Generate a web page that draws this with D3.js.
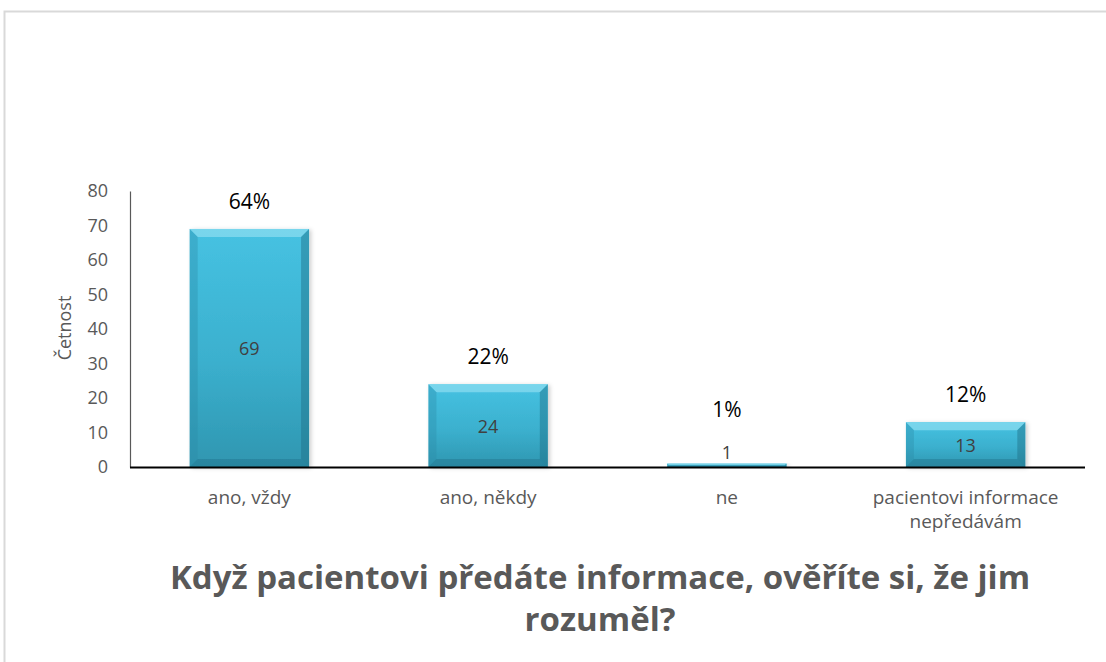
<!DOCTYPE html>
<html>
<head>
<meta charset="utf-8">
<script src="https://cdn.jsdelivr.net/npm/d3@7"></script>
<style>
  body { margin: 0; background: #fff; }
  text { font-family: "Open Sans", "Liberation Sans", sans-serif; }
</style>
</head>
<body>
<div id="chart"></div>
<script>
var categories = ["ano, vždy", "ano, někdy", "ne", "pacientovi informace|nepředávám"];
var counts = [69, 24, 1, 13];
var percents = ["64%", "22%", "1%", "12%"];
var yTicks = [0, 10, 20, 30, 40, 50, 60, 70, 80];
var titleLines = ["Když pacientovi předáte informace, ověříte si, že jim", "rozuměl?"];

var W = 1106, H = 662;
var margin = { left: 130, right: 21, top: 191, bottom: 195 };
var width = W - margin.left - margin.right,
    height = H - margin.top - margin.bottom;

var svg = d3.select("#chart").append("svg")
    .attr("width", W)
    .attr("height", H);

// outer frame
svg.append("rect")
    .attr("x", 4.5).attr("y", 11.5)
    .attr("width", W + 20).attr("height", H + 20)
    .attr("fill", "none")
    .attr("stroke", "#d9d9d9")
    .attr("stroke-width", 2);

var defs = svg.append("defs");
var grad = defs.append("linearGradient")
    .attr("id", "barGrad")
    .attr("x1", 0).attr("y1", 0).attr("x2", 0).attr("y2", 1);
grad.append("stop").attr("offset", "0%").attr("stop-color", "#46c2e2");
grad.append("stop").attr("offset", "55%").attr("stop-color", "#3bb0ce");
grad.append("stop").attr("offset", "100%").attr("stop-color", "#2f96b0");

var shadow = defs.append("filter").attr("id", "shadow")
    .attr("x", "-10%").attr("y", "-10%").attr("width", "130%").attr("height", "130%");
shadow.append("feDropShadow")
    .attr("dx", 2).attr("dy", 1).attr("stdDeviation", 2)
    .attr("flood-color", "#000").attr("flood-opacity", 0.2);

var g = svg.append("g")
    .attr("transform", "translate(" + margin.left + "," + margin.top + ")");

var x = d3.scaleBand()
    .domain(categories)
    .range([0, width])
    .paddingInner(0.5)
    .paddingOuter(0.25);
var y = d3.scaleLinear()
    .domain([0, 80])
    .range([height, 0]);

// Y axis
var yAxis = g.append("g")
    .call(d3.axisLeft(y).tickValues(yTicks).tickSize(0).tickPadding(22));
yAxis.select(".domain").attr("stroke", "#595959").attr("stroke-width", 1.2);
yAxis.selectAll("text")
    .attr("fill", "#595959")
    .style("font-size", "18px");

// Y label
g.append("text")
    .attr("transform", "rotate(-90)")
    .attr("x", -(height / 2) + 1)
    .attr("y", -59)
    .attr("text-anchor", "middle")
    .attr("fill", "#595959")
    .style("font-size", "18px")
    .text("Četnost");

// Bars
var bars = g.selectAll(".bar")
    .data(categories)
    .enter().append("g")
    .attr("class", "bar");

bars.each(function(c, i) {
    var sel = d3.select(this);
    var bx = x(c), bw = x.bandwidth();
    var by = y(counts[i]), bh = height - y(counts[i]);
    var bev = Math.min(8, bh / 2);
    sel.append("rect")
        .attr("x", bx).attr("y", by)
        .attr("width", bw).attr("height", bh)
        .attr("fill", "url(#barGrad)")
        .attr("filter", "url(#shadow)");
    // top bevel (light)
    sel.append("path")
        .attr("d", "M" + bx + "," + by + "L" + (bx + bw) + "," + by +
            "L" + (bx + bw - bev) + "," + (by + bev) + "L" + (bx + bev) + "," + (by + bev) + "Z")
        .attr("fill", "#9be2f3").attr("opacity", 0.6);
    // left bevel
    sel.append("path")
        .attr("d", "M" + bx + "," + by + "L" + (bx + bev) + "," + (by + bev) +
            "L" + (bx + bev) + "," + (by + bh - bev) + "L" + bx + "," + (by + bh) + "Z")
        .attr("fill", "#2a8aa5").attr("opacity", 0.35);
    // right bevel
    sel.append("path")
        .attr("d", "M" + (bx + bw) + "," + by + "L" + (bx + bw - bev) + "," + (by + bev) +
            "L" + (bx + bw - bev) + "," + (by + bh - bev) + "L" + (bx + bw) + "," + (by + bh) + "Z")
        .attr("fill", "#1f6f86").attr("opacity", 0.45);
    // bottom bevel
    sel.append("path")
        .attr("d", "M" + bx + "," + (by + bh) + "L" + (bx + bev) + "," + (by + bh - bev) +
            "L" + (bx + bw - bev) + "," + (by + bh - bev) + "L" + (bx + bw) + "," + (by + bh) + "Z")
        .attr("fill", "#1f6f86").attr("opacity", 0.4);
});

// value labels in bars
bars.append("text")
    .attr("x", function(c) { return x(c) + x.bandwidth() / 2; })
    .attr("y", function(c, i) {
        var v = counts[i];
        return v < 5 ? y(v) - 5 : (y(v) + height) / 2 + 7;
    })
    .attr("text-anchor", "middle")
    .attr("fill", "#404040")
    .style("font-size", "18px")
    .text(function(c, i) { return counts[i]; });

// percentage labels
bars.append("text")
    .attr("x", function(c) { return x(c) + x.bandwidth() / 2; })
    .attr("y", function(c, i) {
        var v = counts[i];
        return v < 5 ? y(v) - 47 : y(v) - 20;
    })
    .attr("text-anchor", "middle")
    .attr("fill", "#000")
    .style("font-size", "21px")
    .text(function(c, i) { return percents[i]; });

// X axis baseline
g.append("line")
    .attr("x1", 0).attr("x2", width)
    .attr("y1", height + 0.5).attr("y2", height + 0.5)
    .attr("stroke", "#000").attr("stroke-width", 2);

// category labels
var cat = g.selectAll(".cat")
    .data(categories)
    .enter().append("text")
    .attr("class", "cat")
    .attr("text-anchor", "middle")
    .attr("fill", "#595959")
    .style("font-size", "19px");
cat.each(function(c) {
    var t = d3.select(this);
    c.split("|").forEach(function(line, j) {
        t.append("tspan")
            .attr("x", x(c) + x.bandwidth() / 2)
            .attr("y", height + 37 + j * 24)
            .text(line);
    });
});

// title
svg.append("text")
    .attr("text-anchor", "middle")
    .attr("fill", "#595959")
    .style("font-size", "33px")
    .style("font-weight", "bold")
    .selectAll("tspan")
    .data(titleLines)
    .enter().append("tspan")
    .attr("x", 600)
    .attr("y", function(d, i) { return 589 + i * 42; })
    .text(function(d) { return d; });
</script>
</body>
</html>
